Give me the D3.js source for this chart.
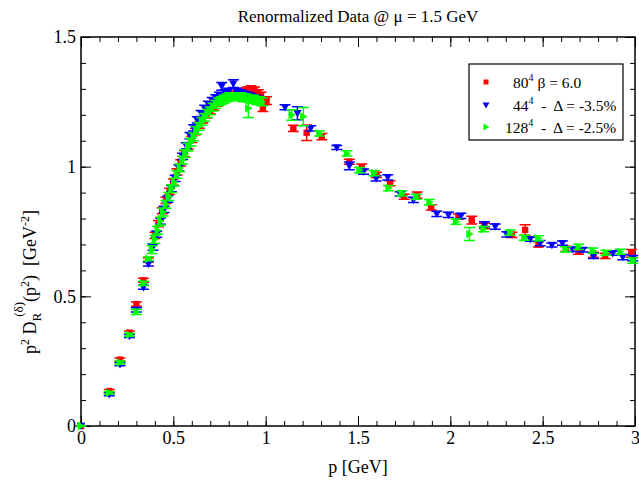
<!DOCTYPE html>
<html>
<head>
<meta charset="utf-8">
<script src="https://cdn.jsdelivr.net/npm/d3@7"></script>
<style>
  body { margin: 0; background: #fff; }
  text { font-family: "Liberation Serif", "DejaVu Serif", serif; }
</style>
</head>
<body>
<div id="chart"></div>
<script>
// Data
const xTicks = [0, 0.5, 1, 1.5, 2, 2.5, 3];
const xTickLabels = ["0", "0.5", "1", "1.5", "2", "2.5", "3"];
const yTicks = [0, 0.5, 1, 1.5];
const yTickLabels = ["0", "0.5", "1", "1.5"];

// 80^4, beta = 6.0 (red squares)
const redP = [0, 0.153, 0.211, 0.262, 0.30, 0.338, 0.365, 0.40, 0.42, 0.44, 0.46, 0.48, 0.50, 0.52, 0.54, 0.56, 0.58, 0.60, 0.62, 0.64, 0.66, 0.68, 0.70, 0.72, 0.74, 0.76, 0.78, 0.80, 0.82, 0.84, 0.86, 0.88, 0.90, 0.92, 0.94, 0.96, 0.975, 0.985, 1.005, 1.15, 1.222, 1.304, 1.453, 1.52, 1.60, 1.674, 1.75, 1.82, 1.896, 2.044, 2.116, 2.185, 2.333, 2.405, 2.477, 2.625, 2.694, 2.775, 2.838, 2.98];
const redV = [0, 0.135, 0.256, 0.36, 0.47, 0.562, 0.64, 0.735, 0.78, 0.83, 0.87, 0.905, 0.94, 0.98, 1.015, 1.05, 1.08, 1.105, 1.135, 1.16, 1.18, 1.20, 1.215, 1.23, 1.245, 1.255, 1.265, 1.27, 1.275, 1.28, 1.285, 1.29, 1.295, 1.30, 1.295, 1.285, 1.275, 1.225, 1.255, 1.148, 1.131, 1.116, 1.019, 0.998, 0.968, 0.936, 0.884, 0.89, 0.843, 0.807, 0.794, 0.772, 0.737, 0.756, 0.70, 0.683, 0.672, 0.66, 0.656, 0.666];
const redE = [0, 0.006, 0.006, 0.006, 0.008, 0.008, 0.008, 0.012, 0.012, 0.012, 0.012, 0.012, 0.012, 0.012, 0.012, 0.012, 0.012, 0.012, 0.012, 0.012, 0.012, 0.012, 0.012, 0.012, 0.012, 0.012, 0.012, 0.012, 0.012, 0.012, 0.012, 0.012, 0.012, 0.012, 0.012, 0.012, 0.012, 0.012, 0.015, 0.012, 0.03, 0.012, 0.01, 0.012, 0.01, 0.01, 0.01, 0.012, 0.01, 0.01, 0.015, 0.01, 0.01, 0.02, 0.01, 0.01, 0.01, 0.01, 0.01, 0.015];

// 44^4, Delta = -3.5% (blue down triangles)
const blueP = [0, 0.153, 0.211, 0.262, 0.30, 0.338, 0.365, 0.39, 0.41, 0.43, 0.45, 0.47, 0.49, 0.51, 0.53, 0.55, 0.57, 0.59, 0.61, 0.63, 0.65, 0.67, 0.69, 0.71, 0.73, 0.75, 0.762, 0.78, 0.80, 0.825, 0.84, 0.86, 0.88, 0.90, 0.92, 0.94, 0.96, 1.105, 1.172, 1.244, 1.385, 1.453, 1.53, 1.598, 1.661, 1.728, 1.80, 1.927, 1.99, 2.057, 2.185, 2.243, 2.306, 2.432, 2.486, 2.55, 2.607, 2.663, 2.718, 2.775, 2.88, 2.934, 2.988];
const blueV = [0, 0.122, 0.238, 0.347, 0.448, 0.535, 0.625, 0.69, 0.74, 0.79, 0.835, 0.875, 0.915, 0.955, 0.995, 1.04, 1.08, 1.12, 1.15, 1.18, 1.205, 1.225, 1.24, 1.255, 1.265, 1.275, 1.31, 1.285, 1.29, 1.32, 1.29, 1.285, 1.28, 1.275, 1.27, 1.265, 1.26, 1.229, 1.206, 1.148, 1.074, 1.003, 0.981, 0.955, 0.959, 0.895, 0.872, 0.818, 0.814, 0.81, 0.778, 0.769, 0.739, 0.72, 0.705, 0.698, 0.705, 0.681, 0.679, 0.656, 0.666, 0.651, 0.647];
const blueE = [0, 0.005, 0.006, 0.006, 0.008, 0.008, 0.008, 0.012, 0.012, 0.012, 0.012, 0.012, 0.012, 0.012, 0.012, 0.012, 0.012, 0.012, 0.012, 0.012, 0.012, 0.012, 0.012, 0.012, 0.012, 0.012, 0.015, 0.012, 0.012, 0.015, 0.012, 0.012, 0.012, 0.012, 0.012, 0.012, 0.012, 0.01, 0.025, 0.01, 0.008, 0.015, 0.01, 0.01, 0.01, 0.008, 0.01, 0.01, 0.01, 0.01, 0.01, 0.01, 0.01, 0.008, 0.01, 0.008, 0.008, 0.008, 0.008, 0.01, 0.008, 0.01, 0.01];

// 128^4, Delta = -2.5% (green right triangles)
const greenP = [0, 0.153, 0.211, 0.262, 0.30, 0.338, 0.365, 0.385, 0.40, 0.415, 0.43, 0.445, 0.46, 0.475, 0.49, 0.505, 0.52, 0.535, 0.55, 0.565, 0.58, 0.595, 0.61, 0.625, 0.64, 0.655, 0.67, 0.685, 0.70, 0.715, 0.73, 0.745, 0.76, 0.775, 0.79, 0.805, 0.82, 0.835, 0.85, 0.865, 0.88, 0.895, 0.906, 0.92, 0.935, 0.95, 0.965, 0.98, 1.141, 1.204, 1.291, 1.44, 1.508, 1.587, 1.665, 1.737, 1.815, 1.887, 2.031, 2.104, 2.18, 2.324, 2.40, 2.477, 2.625, 2.694, 2.772, 2.842, 2.92, 2.988];
const greenV = [0, 0.128, 0.245, 0.352, 0.44, 0.55, 0.645, 0.68, 0.72, 0.755, 0.79, 0.825, 0.855, 0.885, 0.915, 0.94, 0.97, 0.995, 1.025, 1.05, 1.075, 1.095, 1.115, 1.14, 1.155, 1.175, 1.19, 1.205, 1.215, 1.23, 1.24, 1.25, 1.255, 1.26, 1.265, 1.27, 1.27, 1.27, 1.27, 1.27, 1.265, 1.265, 1.225, 1.26, 1.26, 1.255, 1.255, 1.25, 1.199, 1.193, 1.128, 1.051, 0.987, 0.975, 0.917, 0.897, 0.884, 0.863, 0.788, 0.74, 0.759, 0.746, 0.726, 0.724, 0.681, 0.691, 0.676, 0.668, 0.672, 0.638];
const greenE = [0, 0.005, 0.006, 0.006, 0.01, 0.008, 0.008, 0.015, 0.015, 0.015, 0.015, 0.015, 0.015, 0.015, 0.015, 0.015, 0.015, 0.015, 0.015, 0.015, 0.015, 0.015, 0.015, 0.015, 0.015, 0.015, 0.015, 0.015, 0.015, 0.015, 0.015, 0.015, 0.015, 0.015, 0.015, 0.015, 0.015, 0.015, 0.015, 0.015, 0.015, 0.015, 0.035, 0.015, 0.015, 0.015, 0.015, 0.015, 0.02, 0.035, 0.01, 0.01, 0.01, 0.01, 0.01, 0.01, 0.01, 0.01, 0.01, 0.025, 0.01, 0.01, 0.01, 0.01, 0.01, 0.01, 0.01, 0.01, 0.01, 0.01];

// Set dimensions
const W = 639, H = 483;
const margin = { top: 37, right: 4, bottom: 57, left: 81 };
const width = W - margin.left - margin.right;
const height = H - margin.top - margin.bottom;

const svgRoot = d3.select("#chart")
    .append("svg")
    .attr("width", W)
    .attr("height", H);

const svg = svgRoot.append("g")
    .attr("transform", `translate(${margin.left},${margin.top})`);

const x = d3.scaleLinear().domain([0, 3]).range([0, width]);
const y = d3.scaleLinear().domain([0, 1.5]).range([height, 0]);

const minorX = d3.range(0, 31).map(i => i / 10);
const minorY = d3.range(0, 16).map(i => i / 10);

function styleAxis(g) {
    g.attr("font-family", null);
    g.select(".domain").remove();
    g.selectAll("line").attr("stroke", "#000").attr("stroke-width", 1);
    g.selectAll("text")
        .style("font-family", "'Liberation Serif', serif")
        .style("font-size", "18px")
        .attr("fill", "#000");
}

// minor ticks, all four sides
svg.append("g").attr("transform", `translate(0,${height})`)
    .call(d3.axisBottom(x).tickValues(minorX).tickSize(-5).tickFormat("")).call(styleAxis);
svg.append("g")
    .call(d3.axisTop(x).tickValues(minorX).tickSize(-5).tickFormat("")).call(styleAxis);
svg.append("g")
    .call(d3.axisLeft(y).tickValues(minorY).tickSize(-5).tickFormat("")).call(styleAxis);
svg.append("g").attr("transform", `translate(${width},0)`)
    .call(d3.axisRight(y).tickValues(minorY).tickSize(-5).tickFormat("")).call(styleAxis);

// major ticks
svg.append("g").attr("transform", `translate(0,${height})`)
    .call(d3.axisBottom(x).tickValues(xTicks).tickSize(-10).tickPadding(5)
        .tickFormat((d, i) => xTickLabels[i]))
    .call(styleAxis);
svg.append("g")
    .call(d3.axisTop(x).tickValues(xTicks).tickSize(-10).tickFormat("")).call(styleAxis);
svg.append("g")
    .call(d3.axisLeft(y).tickValues(yTicks).tickSize(-10).tickPadding(5)
        .tickFormat((d, i) => yTickLabels[i]))
    .call(styleAxis);
svg.append("g").attr("transform", `translate(${width},0)`)
    .call(d3.axisRight(y).tickValues(yTicks).tickSize(-10).tickFormat("")).call(styleAxis);

// frame
svg.append("rect")
    .attr("width", width).attr("height", height)
    .attr("fill", "none").attr("stroke", "#000").attr("stroke-width", 1.5);

const series = [
    { p: redP, v: redV, e: redE, color: "#ff0000", shape: "square" },
    { p: blueP, v: blueV, e: blueE, color: "#0000ff", shape: "down" },
    { p: greenP, v: greenV, e: greenE, color: "#00ff00", shape: "right" }
];

function markerPath(shape, s) {
    if (shape === "square") return `M${-s},${-s}H${s}V${s}H${-s}Z`;
    if (shape === "down") return `M${-s - 1},${-s}H${s + 1}L0,${s + 1}Z`;
    return `M${-s},${-s - 1}L${s + 1},0L${-s},${s + 1}Z`;
}

const plot = svg.append("g");
series.forEach(sr => {
    const pts = sr.p.map((p, i) => ({ p: p, v: sr.v[i], e: sr.e[i] }));
    const g = plot.append("g");
    const cap = 5.5;
    pts.forEach(d => {
        const cx = x(d.p), y1 = y(d.v + d.e), y2 = y(d.v - d.e);
        g.append("path")
            .attr("d", `M${cx},${y1}V${y2}M${cx - cap},${y1}H${cx + cap}M${cx - cap},${y2}H${cx + cap}`)
            .attr("stroke", sr.color).attr("stroke-width", 1.5).attr("fill", "none");
    });
    g.selectAll(".pt")
        .data(pts)
        .enter()
        .append("path")
        .attr("transform", d => `translate(${x(d.p)},${y(d.v)})`)
        .attr("d", markerPath(sr.shape, 3.2))
        .attr("fill", sr.color);
});

// Legend
const leg = svgRoot.append("g");
leg.append("rect")
    .attr("x", 469).attr("y", 64).attr("width", 154).attr("height", 76)
    .attr("fill", "#fff").attr("stroke", "#000").attr("stroke-width", 1.2);

const legendItems = [
    { shape: "square", color: "#ff0000", y: 82, x: 513, base: "80", rest: " \u03B2 = 6.0" },
    { shape: "down", color: "#0000ff", y: 105, x: 513, base: "44", rest: "  -  \u0394 = -3.5%" },
    { shape: "right", color: "#00ff00", y: 127, x: 505, base: "128", rest: "  -  \u0394 = -2.5%" }
];
legendItems.forEach(it => {
    leg.append("path")
        .attr("transform", `translate(486,${it.y})`)
        .attr("d", markerPath(it.shape, 2.5))
        .attr("fill", it.color);
    const t = leg.append("text")
        .attr("x", it.x).attr("y", it.y + 6)
        .style("font-size", "15.5px")
        .style("white-space", "pre")
        .attr("xml:space", "preserve");
    t.append("tspan").text(it.base);
    t.append("tspan").attr("dy", -7).style("font-size", "10px").text("4");
    t.append("tspan").attr("dy", 7).text(it.rest);
});

// Title and axis labels
svgRoot.append("text")
    .attr("x", 358).attr("y", 22)
    .attr("text-anchor", "middle")
    .style("font-size", "17px")
    .text("Renormalized Data @ \u03BC = 1.5 GeV");

svgRoot.append("text")
    .attr("x", 358).attr("y", 473)
    .attr("text-anchor", "middle")
    .style("font-size", "18px")
    .text("p [GeV]");

const yl = svgRoot.append("text")
    .attr("transform", "translate(36,354) rotate(-90)")
    .attr("text-anchor", "start")
    .style("font-size", "18px")
    .style("white-space", "pre")
    .attr("xml:space", "preserve");
yl.append("tspan").text("p");
yl.append("tspan").attr("dy", -7).style("font-size", "12px").text("2");
yl.append("tspan").attr("dy", 7).text(" D");
yl.append("tspan").attr("dy", 5).style("font-size", "13px").text("R");
yl.append("tspan").attr("dx", -4).attr("dy", -18).style("font-size", "13px").text("(\u03B4)");
yl.append("tspan").attr("dy", 13).text("(p");
yl.append("tspan").attr("dy", -7).style("font-size", "12px").text("2");
yl.append("tspan").attr("dy", 7).text(")  [GeV");
yl.append("tspan").attr("dy", -7).style("font-size", "12px").text("-2");
yl.append("tspan").attr("dy", 7).text("]");
</script>
</body>
</html>
